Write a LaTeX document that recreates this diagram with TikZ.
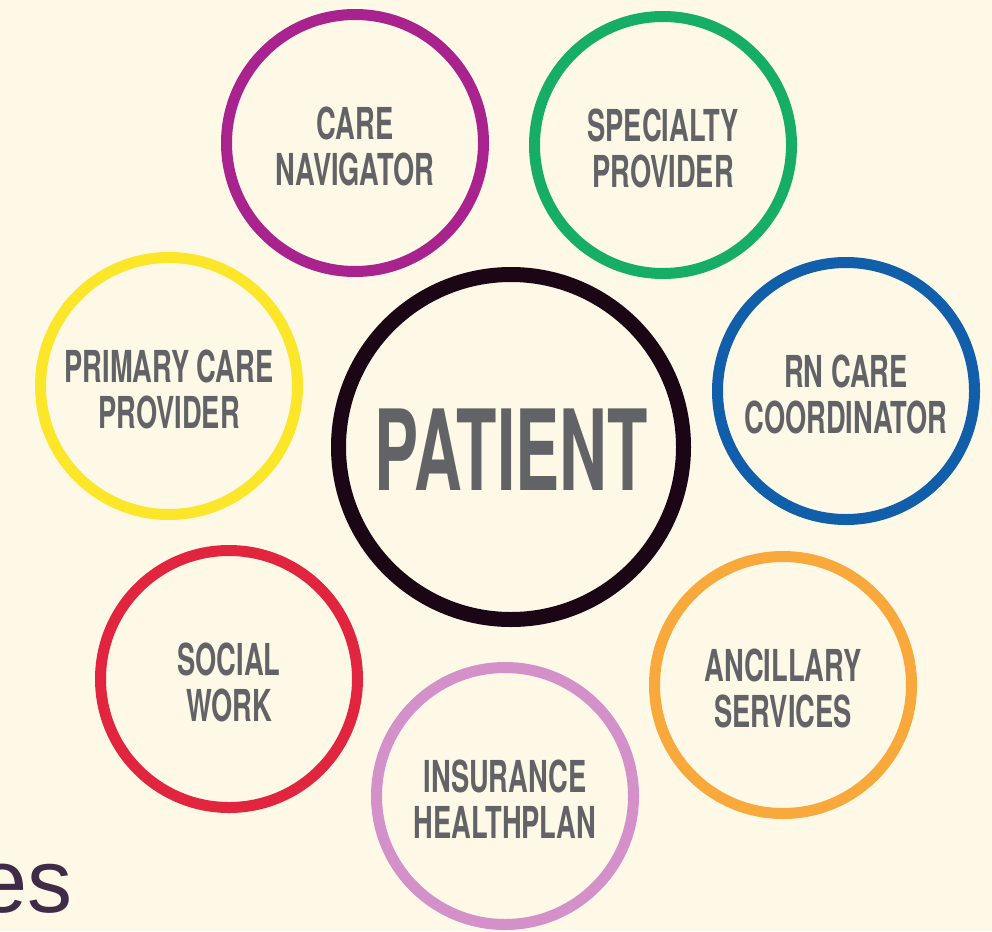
\documentclass[tikz,border=0pt]{standalone}
\usepackage{fontspec}
\setmainfont{TeX Gyre Heros}
\newfontfamily\esfont{Liberation Sans}
\definecolor{bgc}{HTML}{FEF8E7}
\definecolor{txt}{HTML}{626366}
\definecolor{cnav}{HTML}{A8238E}
\definecolor{cspec}{HTML}{16AE64}
\definecolor{cprim}{HTML}{FBE62A}
\definecolor{crn}{HTML}{115EAB}
\definecolor{csoc}{HTML}{E2253F}
\definecolor{canc}{HTML}{F9A93C}
\definecolor{cins}{HTML}{D390C9}
\definecolor{cpat}{HTML}{1A0614}
\definecolor{ces}{HTML}{3F2A47}
\newcommand{\lbl}[1]{\scalebox{0.62}[1]{\fontsize{44pt}{45pt}\selectfont\bfseries\begin{tabular}{@{}c@{}}#1\end{tabular}}}
\tikzset{
  ring/.style={circle, draw=#1, line width=11pt, minimum size=257pt, inner sep=0pt},
  bigring/.style={circle, draw=cpat, line width=15pt, minimum size=345pt, inner sep=0pt},
  lab/.style={text=txt, inner sep=0pt, yshift=-10pt},
}
\begin{document}
\begin{tikzpicture}[x=1pt,y=-1pt]
\fill[bgc] (0,0) rectangle (992,931);
\useasboundingbox (0,0) rectangle (992,931);
\clip (0,0) rectangle (992,931);
\node[bigring, label={[lab, yshift=7pt]center:\scalebox{0.59}[1]{\fontsize{112pt}{112pt}\selectfont\bfseries PATIENT}}] (pat) at (511,447) {};
\node[ring=cnav, label={[lab]center:\lbl{CARE\\NAVIGATOR}}] (nav) at (355,143) {};
\node[ring=cspec, label={[lab]center:\lbl{SPECIALTY\\PROVIDER}}] (spec) at (663,145) {};
\node[ring=cprim, label={[lab]center:\lbl{PRIMARY CARE\\PROVIDER}}] (prim) at (169,386) {};
\node[ring=crn, label={[lab]center:\lbl{RN CARE\\COORDINATOR}}] (rn) at (846,391) {};
\node[ring=csoc, label={[lab]center:\lbl{SOCIAL\\WORK}}] (soc) at (229,679) {};
\node[ring=canc, label={[lab]center:\lbl{ANCILLARY\\SERVICES}}] (anc) at (783,685) {};
\node[ring=cins, label={[lab]center:\lbl{INSURANCE\\HEALTHPLAN}}] (ins) at (505,796) {};
\node[anchor=base east, inner sep=0pt, text=ces, font=\esfont\fontsize{90pt}{90pt}\selectfont] (es) at (73,912) {es};
\end{tikzpicture}
\end{document}
